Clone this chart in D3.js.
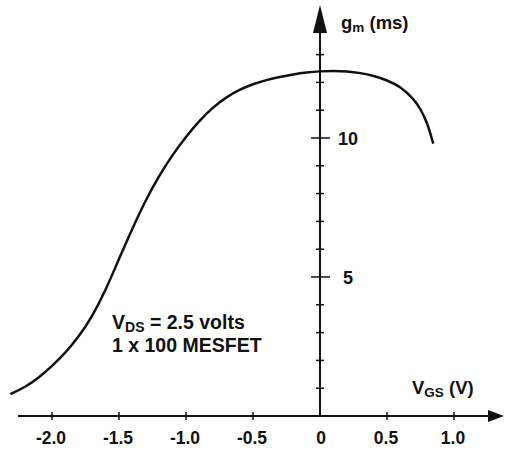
<!DOCTYPE html>
<html>
<head>
<meta charset="utf-8">
<script src="https://cdn.jsdelivr.net/npm/d3@7/dist/d3.min.js"></script>
<style>
  html, body { margin: 0; padding: 0; background: #fff; }
  svg { display: block; }
  text { font-family: "Liberation Sans", Arial, Helvetica, sans-serif; fill: #111; }
</style>
</head>
<body>
<svg id="chart" width="508" height="451"></svg>
<script>
// Transconductance gm (mS) versus gate voltage VGS (V)
const vgs = [-2.31, -2.20, -2.10, -2.00, -1.90, -1.80, -1.70, -1.60, -1.50, -1.40, -1.30,
             -1.20, -1.10, -1.00, -0.90, -0.80, -0.70, -0.60, -0.50, -0.40, -0.30, -0.20,
             -0.10, 0.00, 0.10, 0.20, 0.30, 0.40, 0.50, 0.60, 0.70, 0.75, 0.80, 0.83, 0.845];
const gm  = [0.79, 1.04, 1.37, 1.79, 2.27, 2.85, 3.58, 4.52, 5.65, 6.75, 7.78,
             8.65, 9.40, 10.05, 10.62, 11.10, 11.47, 11.74, 11.94, 12.09, 12.20, 12.29,
             12.36, 12.40, 12.42, 12.40, 12.34, 12.24, 12.08, 11.85, 11.40, 11.05, 10.55, 10.05, 9.80];

const xTicks = [-2.0, -1.5, -1.0, -0.5, 0, 0.5, 1.0];
const xTickLabels = ["-2.0", "-1.5", "-1.0", "-0.5", "0", "0.5", "1.0"];
const yTicks = [1, 2, 3, 4, 5, 6, 7, 8, 9, 10, 11, 12, 13];
const yTickLabels = [5, 10];

const svg = d3.select("#chart");

const x = d3.scaleLinear().domain([0, 1]).range([320, 454]);
const y = d3.scaleLinear().domain([0, 10]).range([416, 138]);

const ink = "#111";

// horizontal axis with arrowhead
svg.append("line")
  .attr("x1", 18).attr("x2", 490)
  .attr("y1", y(0)).attr("y2", y(0))
  .attr("stroke", ink).attr("stroke-width", 2);
svg.append("path")
  .attr("d", `M${488},${y(0) - 6} L${504},${y(0)} L${488},${y(0) + 6} Z`)
  .attr("fill", ink);

// vertical axis with arrowhead
svg.append("line")
  .attr("x1", x(0)).attr("x2", x(0))
  .attr("y1", y(0)).attr("y2", 30)
  .attr("stroke", ink).attr("stroke-width", 2);
svg.append("path")
  .attr("d", `M${x(0) - 7},${33} L${x(0)},${5} L${x(0) + 7},${33} Z`)
  .attr("fill", ink);

// x ticks and labels
svg.selectAll(".xtick")
  .data(xTicks.filter(d => d !== 0))
  .join("line")
  .attr("x1", d => x(d)).attr("x2", d => x(d))
  .attr("y1", y(0) - 4).attr("y2", y(0) + 4)
  .attr("stroke", ink).attr("stroke-width", 1.5);

svg.selectAll(".xlabel")
  .data(xTicks)
  .join("text")
  .attr("x", d => x(d) + (d === 0 ? 1 : -1))
  .attr("y", 444)
  .attr("text-anchor", "middle")
  .attr("font-size", 17.5)
  .attr("font-weight", "bold")
  .text((d, i) => xTickLabels[i]);

// y ticks: short ones, longer at the labelled values
svg.selectAll(".ytick")
  .data(yTicks)
  .join("line")
  .attr("x1", d => x(0) - (yTickLabels.includes(d) ? 9 : 4))
  .attr("x2", d => x(0) + (yTickLabels.includes(d) ? 10 : 4))
  .attr("y1", d => y(d)).attr("y2", d => y(d))
  .attr("stroke", ink).attr("stroke-width", 1.5);

svg.selectAll(".ylabel")
  .data(yTickLabels)
  .join("text")
  .attr("x", d => x(0) + (d === 5 ? 23 : 18))
  .attr("y", d => y(d) + 6.5)
  .attr("font-size", 18)
  .attr("font-weight", "bold")
  .text(d => d);

// axis titles
const gTitle = svg.append("text").attr("x", 341).attr("y", 29)
  .attr("font-size", 18.5).attr("font-weight", "bold");
gTitle.append("tspan").text("g");
gTitle.append("tspan").attr("font-size", 13.5).attr("dy", 3).text("m");
gTitle.append("tspan").attr("dy", -3).text(" (ms)");

const vTitle = svg.append("text").attr("x", 412).attr("y", 394)
  .attr("font-size", 18.5).attr("font-weight", "bold");
vTitle.append("tspan").text("V");
vTitle.append("tspan").attr("font-size", 13.5).attr("dy", 3).text("GS");
vTitle.append("tspan").attr("dy", -3).text(" (V)");

// conditions note
const note1 = svg.append("text").attr("x", 112).attr("y", 329)
  .attr("font-size", 19.5).attr("font-weight", "bold");
note1.append("tspan").text("V");
note1.append("tspan").attr("font-size", 14).attr("dy", 3).text("DS");
note1.append("tspan").attr("dy", -3).text(" = 2.5 volts");
svg.append("text").attr("x", 112).attr("y", 352)
  .attr("font-size", 19.5).attr("font-weight", "bold")
  .text("1 x 100 MESFET");

// gm curve
const line = d3.line()
  .x((d, i) => x(vgs[i]))
  .y((d, i) => y(gm[i]))
  .curve(d3.curveBasis);

svg.append("path")
  .datum(gm)
  .attr("d", line)
  .attr("fill", "none")
  .attr("stroke", ink)
  .attr("stroke-width", 2.5);
</script>
</body>
</html>
